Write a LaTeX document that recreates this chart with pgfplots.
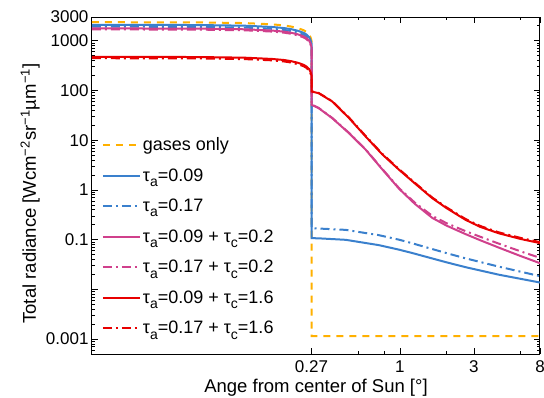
\documentclass[border=0pt]{standalone}
\usepackage{fontspec}
\setmainfont{Liberation Sans}
\usepackage{pgfplots}
\pgfplotsset{compat=1.18}
\definecolor{cor}{RGB}{255,176,0}
\definecolor{cbl}{RGB}{58,128,205}
\definecolor{cmg}{RGB}{208,64,140}
\definecolor{crd}{RGB}{232,0,0}
\newcommand{\sub}[1]{\raisebox{-0.55ex}{\fontsize{14}{14}\selectfont #1}}
\begin{document}
\begin{tikzpicture}
\begin{axis}[
  name=ax,
  scale only axis,
  width=448pt, height=337pt,
  xmode=log, ymode=log,
  xmin=0.0104, xmax=8,
  ymin=5e-4, ymax=3000,
  xtick={0.27,1,3,8},
  xticklabels={0.27,1,3,8},
  minor xtick={0.54,0.8,2,6},
  ytick={0.001,0.01,0.1,1,10,100,1000,3000},
  yticklabels={0.001,,0.1,1,10,100,1000,3000},
  minor ytick={6e-4,7e-4,8e-4,9e-4,2e-3,3e-3,4e-3,5e-3,6e-3,7e-3,8e-3,9e-3,2e-2,3e-2,4e-2,5e-2,6e-2,7e-2,8e-2,9e-2,0.2,0.3,0.4,0.5,0.6,0.7,0.8,0.9,2,3,4,5,6,7,8,9,20,30,40,50,60,70,80,90,200,300,400,500,600,700,800,900,2000},
  tick align=inside,
  major tick length=6pt, minor tick length=3pt,
  every tick/.style={black, line width=0.6pt},
  axis line style={line width=1pt},
  tick label style={font=\fontsize{17}{17}\selectfont},
  xticklabel style={yshift=-3pt},
  /pgf/number format/assume math mode=true,
  xlabel={Ange from center of Sun [°]},
  ylabel={Total radiance [Wcm\textsuperscript{−2}sr\textsuperscript{−1}µm\textsuperscript{−1}]},
  label style={font=\fontsize{18.5}{18.5}\selectfont},
  xlabel style={at={(axis description cs:0.5,-0.1157)}, anchor=base},
  ylabel style={at={(axis description cs:-0.138,0.476)}, anchor=center},
  legend cell align=left,
  legend style={draw=none, fill=none, at={(0.015,0.655)}, anchor=north west,
    font=\fontsize{18}{18}\selectfont, row sep=12.5pt},
  legend image code/.code={\draw[#1] (0pt,0pt) -- (37pt,0pt);},
]
\addplot[cor, line width=2pt, dash pattern=on 7pt off 6pt] coordinates {
(0.0104,2360) (0.05,2336) (0.1,2266) (0.15,2136) (0.18,2030) (0.2,1923) (0.22,1794) (0.24,1628) (0.25,1510) (0.26,1345) (0.265,1204) (0.268,1086) (0.27,991)
(0.2705,0.00115) (8,0.00115)};
\addlegendentry{gases only}
\addplot[cbl, line width=2pt] coordinates {
(0.0104,2090) (0.05,2069) (0.1,2006) (0.15,1891) (0.18,1797) (0.2,1703) (0.22,1588) (0.24,1442) (0.25,1338) (0.26,1191) (0.265,1066) (0.268,961) (0.27,878)
(0.2705,0.107) (0.3,0.106) (0.448,0.099) (0.733,0.0774) (0.99,0.0627) (1.2,0.0538) (1.62,0.0417) (2.0,0.0349) (2.65,0.0279) (4.34,0.0197) (8,0.0137)};
\addlegendentry{τ\sub{a}=0.09}
\addplot[cbl, line width=2pt, dash pattern=on 9pt off 4pt on 2pt off 4pt] coordinates {
(0.0104,1920) (0.05,1901) (0.1,1843) (0.15,1738) (0.18,1651) (0.2,1565) (0.22,1459) (0.24,1325) (0.25,1229) (0.26,1094) (0.265,979) (0.268,883) (0.27,806)
(0.2705,0.169) (0.3,0.167) (0.448,0.157) (0.733,0.1228) (0.99,0.0995) (1.2,0.0845) (1.62,0.0645) (2.0,0.0534) (2.65,0.042) (4.34,0.0286) (8,0.0184)};
\addlegendentry{τ\sub{a}=0.17}
\addplot[cmg, line width=2pt] coordinates {
(0.0104,1770) (0.05,1752) (0.1,1699) (0.15,1602) (0.18,1522) (0.2,1443) (0.22,1345) (0.24,1221) (0.25,1133) (0.26,1009) (0.265,903) (0.268,814) (0.27,743)
(0.2705,51.5) (0.3,44.1) (0.367,27.7) (0.471,13.8) (0.603,6.41) (0.77,2.6) (0.99,1.05) (1.25,0.523) (1.62,0.273) (2.0,0.191) (2.65,0.129) (3.3,0.097) (4.34,0.069) (6,0.0467) (8,0.0335)};
\addlegendentry{τ\sub{a}=0.09 + τ\sub{c}=0.2}
\addplot[cmg, line width=2pt, dash pattern=on 9pt off 4pt on 2pt off 4pt] coordinates {
(0.0104,1690) (0.05,1673) (0.1,1622) (0.15,1529) (0.18,1453) (0.2,1377) (0.22,1284) (0.24,1166) (0.25,1082) (0.26,963) (0.265,862) (0.268,777) (0.27,710)
(0.2705,52) (0.3,44.5) (0.367,28) (0.471,14) (0.603,6.5) (0.77,2.65) (0.99,1.08) (1.25,0.554) (1.62,0.30) (2.0,0.214) (2.65,0.148) (3.3,0.114) (4.34,0.083) (6,0.058) (8,0.043)};
\addlegendentry{τ\sub{a}=0.17 + τ\sub{c}=0.2}
\addplot[crd, line width=2pt] coordinates {
(0.0104,475) (0.05,470) (0.1,456) (0.15,430) (0.18,409) (0.2,387) (0.22,361) (0.24,328) (0.25,304) (0.26,271) (0.265,242) (0.268,219) (0.27,200)
(0.2705,95) (0.3,88) (0.367,60) (0.471,27.8) (0.603,11.8) (0.77,5.2) (0.99,2.53) (1.25,1.35) (1.62,0.68) (2.0,0.43) (2.65,0.25) (3.3,0.18) (4.34,0.134) (6,0.103) (8,0.085)};
\addlegendentry{τ\sub{a}=0.09 + τ\sub{c}=1.6}
\addplot[crd, line width=2pt, dash pattern=on 9pt off 4pt on 2pt off 4pt] coordinates {
(0.0104,445) (0.05,441) (0.1,427) (0.15,403) (0.18,383) (0.2,363) (0.22,338) (0.24,307) (0.25,285) (0.26,254) (0.265,227) (0.268,205) (0.27,187)
(0.2705,96) (0.3,89) (0.367,61) (0.471,28.4) (0.603,12.1) (0.77,5.35) (0.99,2.6) (1.25,1.39) (1.62,0.70) (2.0,0.445) (2.65,0.26) (3.3,0.188) (4.34,0.14) (6,0.108) (8,0.089)};
\addlegendentry{τ\sub{a}=0.17 + τ\sub{c}=1.6}
\end{axis}
\pgfresetboundingbox
\path ([xshift=-92pt,yshift=-43pt]ax.south west) rectangle ([xshift=4pt,yshift=17pt]ax.north east);
\end{tikzpicture}
\end{document}
